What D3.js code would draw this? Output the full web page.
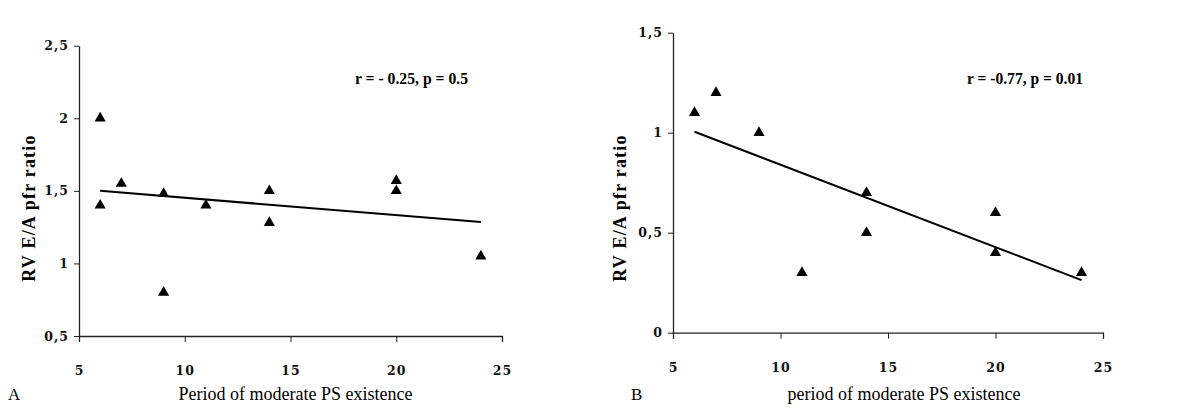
<!DOCTYPE html>
<html>
<head>
<meta charset="utf-8">
<script src="https://cdn.jsdelivr.net/npm/d3@7"></script>
<style>
  body { margin: 0; background: #fff; }
  svg { display: block; }
  .domain, .tick line { stroke: #222; }
</style>
</head>
<body>
<svg width="1200" height="415"></svg>
<script>
// panel A
var xA = [6, 6, 7, 9, 9, 11, 14, 14, 20, 20, 24];
var yA = [2.0, 1.4, 1.55, 1.48, 0.8, 1.4, 1.5, 1.28, 1.57, 1.5, 1.05];
var trendA = [[6, 1.5], [24, 1.285]];
var yTicksA = [0.5, 1, 1.5, 2, 2.5];
// panel B
var xB = [6, 7, 9, 11, 14, 14, 20, 20, 24];
var yB = [1.1, 1.2, 1.0, 0.3, 0.7, 0.5, 0.6, 0.4, 0.3];
var trendB = [[6, 1.005], [24, 0.263]];
var yTicksB = [0, 0.5, 1, 1.5];
var xTicks = [5, 10, 15, 20, 25];

var svg = d3.select("svg");
var fmt = function(d) { return String(d).replace(".", ","); };

function style_ticks(sel) {
    sel.selectAll(".tick text")
        .style("font-family", "'DejaVu Serif', serif")
        .style("font-weight", "bold")
        .style("font-size", "12.5px")
        .style("letter-spacing", "1px")
        .style("fill", "#111");
}

function draw_panel(opt) {
    var x = d3.scaleLinear().domain([5, 25]).range([opt.left, opt.right]);
    var y = d3.scaleLinear().domain(opt.ydom).range([opt.bottom, opt.top]);
    var g = svg.append("g");

    g.append("g")
        .attr("transform", "translate(0," + opt.bottom + ")")
        .call(d3.axisBottom(x).tickValues(xTicks).tickSize(6).tickSizeOuter(6).tickPadding(24))
        .call(style_ticks);
    g.append("g")
        .attr("transform", "translate(" + opt.left + ",0)")
        .call(d3.axisLeft(y).tickValues(opt.yticks).tickFormat(fmt).tickSize(5).tickSizeOuter(0).tickPadding(5))
        .call(style_ticks);
    g.selectAll(".domain").attr("stroke-width", 1.3);

    // regression line
    g.append("line")
        .attr("x1", x(opt.trend[0][0])).attr("y1", y(opt.trend[0][1]))
        .attr("x2", x(opt.trend[1][0])).attr("y2", y(opt.trend[1][1]))
        .attr("stroke", "#000").attr("stroke-width", 2);

    var tri = d3.symbol().type(d3.symbolTriangle).size(54);
    g.selectAll("path.pt")
        .data(opt.xs)
        .enter().append("path")
        .attr("class", "pt")
        .attr("d", tri)
        .attr("fill", "#000")
        .attr("transform", function(d, i) { return "translate(" + x(d) + "," + y(opt.ys[i]) + ")"; });

    g.append("text")
        .attr("x", opt.annX).attr("y", 84)
        .attr("font-family", "Liberation Serif, serif")
        .attr("font-weight", "bold")
        .attr("font-size", 17)
        .attr("textLength", opt.annW)
        .attr("lengthAdjust", "spacingAndGlyphs")
        .text(opt.ann);

    g.append("text")
        .attr("x", (opt.left + opt.right) / 2 + opt.titleShift).attr("y", 400)
        .attr("text-anchor", "middle")
        .attr("font-family", "Liberation Serif, serif")
        .attr("font-size", 18)
        .text(opt.xtitle);

    g.append("text")
        .attr("x", opt.letterX).attr("y", 400)
        .attr("font-family", "Liberation Serif, serif")
        .attr("font-size", 17)
        .text(opt.letter);

    g.append("text")
        .attr("transform", "translate(" + opt.ytitleX + ",208) rotate(-90)")
        .attr("text-anchor", "middle")
        .attr("font-family", "Liberation Serif, serif")
        .attr("font-weight", "bold")
        .attr("font-size", 18)
        .attr("letter-spacing", 1.2)
        .text("RV E/A pfr ratio");
}

draw_panel({
    left: 79, right: 502, top: 45.7, bottom: 336, ydom: [0.5, 2.5], yticks: yTicksA,
    xs: xA, ys: yA, trend: trendA,
    ann: "r = - 0.25, p = 0.5", annX: 355, annW: 113,
    xtitle: "Period of moderate PS existence", titleShift: 5,
    letter: "A", letterX: 8, ytitleX: 35
});
draw_panel({
    left: 673, right: 1103, top: 32.7, bottom: 332.7, ydom: [0, 1.5], yticks: yTicksB,
    xs: xB, ys: yB, trend: trendB,
    ann: "r = -0.77, p = 0.01", annX: 967, annW: 116,
    xtitle: "period of moderate PS existence", titleShift: 16,
    letter: "B", letterX: 631, ytitleX: 626
});
</script>
</body>
</html>
